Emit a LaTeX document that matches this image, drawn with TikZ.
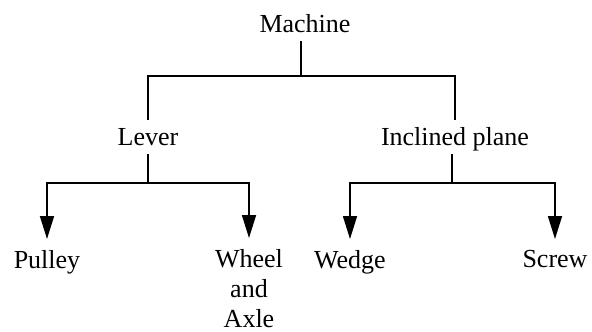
\documentclass[tikz,border=0pt]{standalone}
\usepackage{fontspec}
\setmainfont{Liberation Serif}
\usetikzlibrary{arrows.meta}
\begin{document}
\begin{tikzpicture}[x=1pt,y=-1pt,
	box/.style={anchor=base,inner sep=3pt,text height=22pt,text depth=6pt,font=\fontsize{26}{30}\selectfont},
	leaf/.style={anchor=north,inner xsep=3pt,inner ysep=11pt,align=center,font=\fontsize{26}{30}\selectfont},
	link/.style={line width=1.7pt},
	arr/.style={link,-{Triangle[width=14pt,length=23pt]}}]
	\useasboundingbox (0,0) rectangle (592,332);
	\node[box] at (305,32) (Machine) {Machine};
	\node[box] at (148,145) (Lever) {Lever};
	\node[box] at (455,145) (Plane) {Inclined plane};
	\node[leaf] at (47,239) (Pulley) {Pulley};
	\node[leaf] at (249,238) (Wheel) {Wheel\\and\\Axle};
	\node[leaf] at (350,239) (Wedge) {Wedge};
	\node[leaf] at (555,239) (Screw) {Screw};
	
	\coordinate (top) at (301,76);
	\coordinate (left) at (148,183);
	\coordinate (right) at (452,183);
	\draw[link] (top |- Machine.south) -- (top);
	\draw[link] (Lever.north) |- (top) -| (Plane.north);
	\draw[link] (Lever.south) -- (left);
	\draw[link] (right |- Plane.south) -- (right);
	\draw[arr] (left) -| (Pulley.north);
	\draw[arr] (left) -| (Wheel.north);
	\draw[arr] (right) -| (Wedge.north);
	\draw[arr] (right) -| (Screw.north);
\end{tikzpicture}
\end{document}
